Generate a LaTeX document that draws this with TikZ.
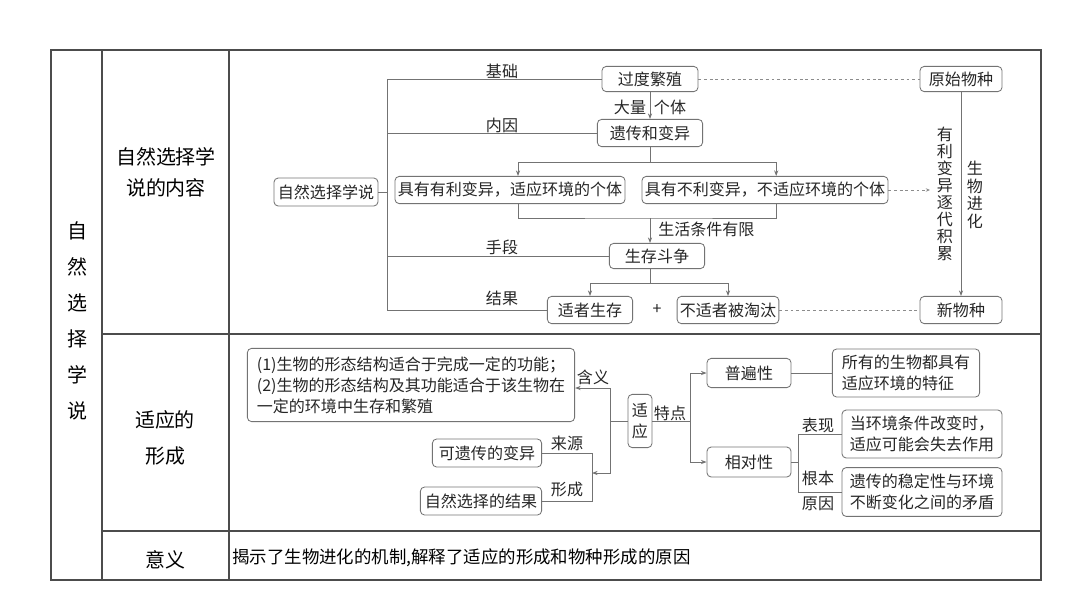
\documentclass[tikz,border=0pt]{standalone}
\usepackage{fontspec}
\setmainfont{Noto Sans CJK SC}
\usetikzlibrary{arrows.meta}

\begin{document}
\begin{tikzpicture}[x=0.025cm, y=-0.025cm, box/.style={draw=black!55, rounded corners=3pt, line width=0.6pt, inner sep=2pt, minimum height=0.68cm, text=black!85, font=\fontsize{11.4}{15}\selectfont}, conn/.style={draw=black!55, line width=0.6pt}, arr/.style={conn, -{Stealth[length=4pt,width=3pt]}}, dots/.style={draw=black!45, line width=0.5pt, dash pattern=on 2pt off 2pt}, lbl/.style={inner sep=0pt, align=center, text=black!85, font=\fontsize{11.4}{12.1}\selectfont}, cellhead/.style={align=center, font=\fontsize{14.2}{22}\selectfont}, grid/.style={draw=black!70, line width=0.8pt}]
\useasboundingbox (0,0) rectangle (1080,607);
\draw[grid] (51,50) rectangle (1041,580);
\draw[grid] (102,50)--(102,580) (229,50)--(229,580) (102,334)--(1041,334) (102,531)--(1041,531);
\node[cellhead, font=\fontsize{14.2}{25.6}\selectfont] (tName) at (77,321) {自\\然\\选\\择\\学\\说};
\node[cellhead] (tContent) at (166,172) {自然选择学\\说的内容};
\node[cellhead, font=\fontsize{14.2}{25.6}\selectfont] (tForm) at (165,438) {适应的\\形成};
\node[cellhead] (tSense) at (165,560) {意义};
\node[anchor=west, inner sep=0pt, font=\fontsize{12.4}{15}\selectfont] (tText) at (232,558) {揭示了生物进化的机制,解释了适应的形成和物种形成的原因};
\node[box, minimum width=2.6cm, minimum height=0.7cm] (root) at (326,192) {自然选择学说};
\node[box, minimum width=2.4cm, minimum height=0.63cm] (fan) at (650,79) {过度繁殖};
\node[box, minimum width=2.05cm, minimum height=0.63cm] (orig) at (961,79) {原始物种};
\node[box, minimum width=2.63cm] (var) at (650,133) {遗传和变异};
\node[box, minimum width=5.68cm] (good) at (510,190) {具有有利变异，适应环境的个体};
\node[box, minimum width=6.1cm] (bad) at (765,190) {具有不利变异，不适应环境的个体};
\node[box, minimum width=2.38cm, minimum height=0.63cm] (strug) at (657,256) {生存斗争};
\node[box, minimum width=2.13cm] (fit) at (590,310) {适者生存};
\node[box, minimum width=2.48cm] (unfit) at (728,310) {不适者被淘汰};
\node[box, minimum width=2.05cm] (new) at (961,310) {新物种};
\coordinate (trunk) at (387,0);
\draw[conn] (fan.west) -- (fan.west -| trunk) -- (fit.west -| trunk) -- (fit.west);
\draw[conn] (var.west) -- (var.west -| trunk); \draw[conn] (strug.west) -- (strug.west -| trunk);
\draw[conn] (root.east) -- (root.east -| trunk);
\node[lbl] (lBase) at (502,71) {基础}; \node[lbl] (lInner) at (502,125) {内因};
\node[lbl] (lMeans) at (502,247) {手段}; \node[lbl] (lResult) at (502,298) {结果};
\draw[arr] (fan.south) -- (var.north);
\node[lbl] (lMany) at (630,107) {大量}; \node[lbl] (lIndiv) at (670,107) {个体};
\coordinate (s1) at (650,162); \coordinate (s2) at (650,218); \coordinate (s3) at (650,283);
\draw[conn] (var.south) -- (s1); \draw[arr] (s1) -| ([xshift=0.2cm]good.north); \draw[arr] (s1) -| ([xshift=0.28cm]bad.north);
\draw[conn] ([xshift=0.2cm]good.south) |- (s2) -| ([xshift=0.28cm]bad.south); \draw[arr] (s2) -- (s2 |- strug.north);
\node[lbl, anchor=west] (lLimit) at (658,229) {生活条件有限};
\draw[conn] (s2 |- strug.south) -- (s3); \draw[arr] (s3) -| (fit.north); \draw[arr] (s3) -| (unfit.north);
\node[lbl] (plus) at (657,310) {+};
\coordinate (badEnd) at (930,190);
\draw[dots] (fan.east) -- (orig.west); \draw[dots] (unfit.east) -- (new.west);
\draw[dots, -{Stealth[length=3pt,width=2.5pt]}] (bad.east) -- (badEnd);
\draw[arr] (orig.south) -- (new.north);
\node[lbl] (lAccum) at (945,194) {有\\利\\变\\异\\逐\\代\\积\\累};
\node[lbl, font=\fontsize{11.4}{12.4}\selectfont] (lEvo) at (975,195) {生\\物\\进\\化};
\node[box, minimum width=8.18cm, minimum height=1.83cm, align=left] (meaning) at (411,385) {(1)生物的形态结构适合于完成一定的功能；\\(2)生物的形态结构及其功能适合于该生物在\\一定的环境中生存和繁殖};
\node[box, minimum width=0.6cm, minimum height=1.33cm, align=center] (adapt) at (640,421) {适\\应};
\node[box, minimum width=2.73cm, minimum height=0.7cm] (heri) at (487,453) {可遗传的变异};
\node[box, minimum width=3.03cm, minimum height=0.7cm] (nsel) at (481,501) {自然选择的结果};
\node[box, minimum width=2.1cm, minimum height=0.73cm] (univ) at (749,373) {普遍性};
\node[box, minimum width=3.68cm, minimum height=1.2cm, align=left] (univTxt) at (906,373) {所有的生物都具有\\适应环境的特征};
\node[box, minimum width=2.1cm, minimum height=0.75cm] (rel) at (749,462) {相对性};
\node[box, minimum width=4cm, minimum height=1.2cm, align=left] (show) at (922,434) {当环境条件改变时，\\适应可能会失去作用};
\node[box, minimum width=4cm, minimum height=1.22cm, align=left] (cause) at (922,492) {遗传的稳定性与环境\\不断变化之间的矛盾};
\coordinate (j1) at (610,421); \coordinate (j1top) at (610,388); \coordinate (j2) at (592,473); \coordinate (j3) at (690,421); \coordinate (j4) at (798,462);
\draw[conn] (adapt.west) -- (j1); \draw[arr] (j1) |- (j1top -| meaning.east); \draw[arr] (j1) |- (j2);
\draw[conn] (heri.east) -| (j2 |- nsel.east) -- (nsel.east);
\node[lbl] (lSense) at (593,377) {含义}; \node[lbl] (lSource) at (567,443) {来源}; \node[lbl] (lMade) at (567,489) {形成};
\draw[conn] (adapt.east) -- (j3); \draw[arr] (j3) |- (univ.west); \draw[arr] (j3) |- (rel.west);
\node[lbl] (lTrait) at (670,413) {特点};
\draw[conn] (univ.east) -- (univTxt.west);
\draw[conn] (rel.east) -- (j4); \draw[conn] (j4) |- (show.west); \draw[conn] (j4) |- (cause.west);
\node[lbl] (lShow) at (818,425) {表现}; \node[lbl, font=\fontsize{11.4}{18}\selectfont] (lRoot) at (818,491) {根本\\原因};
\end{tikzpicture}
\end{document}
